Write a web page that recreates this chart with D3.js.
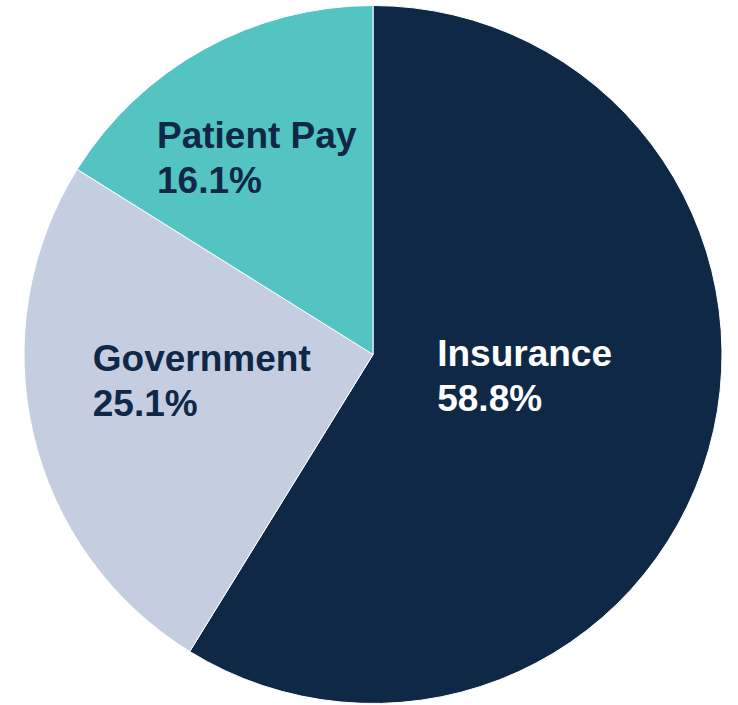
<!DOCTYPE html>
<html>
<head>
<meta charset="utf-8">
<script src="https://cdn.jsdelivr.net/npm/d3@7"></script>
<style>
  body { margin: 0; background: #fff; }
  svg { display: block; }
</style>
</head>
<body>
<div id="app"></div>
<script>
// Payer mix
let categories = ["Insurance", "Government", "Patient Pay"]
let values = [58.8, 25.1, 16.1]
let colors = ["#0e2846", "#c5cee1", "#53c4c1"]
let labelColors = ["#ffffff", "#0e2846", "#0e2846"]

let width = 738
let height = 705
let cx = 373, cy = 354.5
let radius = 349

let svg = d3.select("#app").append("svg")
    .attr("width", width)
    .attr("height", height)

let data = categories.map((c, i) => ({name: c, value: values[i], i: i}))

let pie = d3.pie().sort(null).value(d => d.value)
let arc = d3.arc().innerRadius(0).outerRadius(radius)

let g = svg.append("g").attr("transform", "translate(" + cx + "," + cy + ")")

let arcs = pie(data)

g.selectAll("path")
    .data(arcs)
    .enter().append("path")
    .attr("d", arc)
    .attr("fill", d => colors[d.data.i])
    .attr("stroke", "#fff")
    .attr("stroke-width", 1)

// label positions (relative to centre, as fraction of radius)
let labelPos = [[0.184, 0.033], [-0.803, 0.047], [-0.619, -0.592]]

let labels = g.selectAll("text.lbl")
    .data(arcs)
    .enter().append("text")
    .attr("class", "lbl")
    .attr("x", d => labelPos[d.data.i][0] * radius)
    .attr("y", d => labelPos[d.data.i][1] * radius)
    .attr("fill", d => labelColors[d.data.i])
    .style("font-family", "'Liberation Sans', Arial, sans-serif")
    .style("font-weight", "bold")
    .style("font-size", "37px")

labels.append("tspan")
    .text(d => d.data.name)
labels.append("tspan")
    .attr("x", d => labelPos[d.data.i][0] * radius)
    .attr("dy", 45)
    .text(d => d.data.value.toFixed(1) + "%")
</script>
</body>
</html>
